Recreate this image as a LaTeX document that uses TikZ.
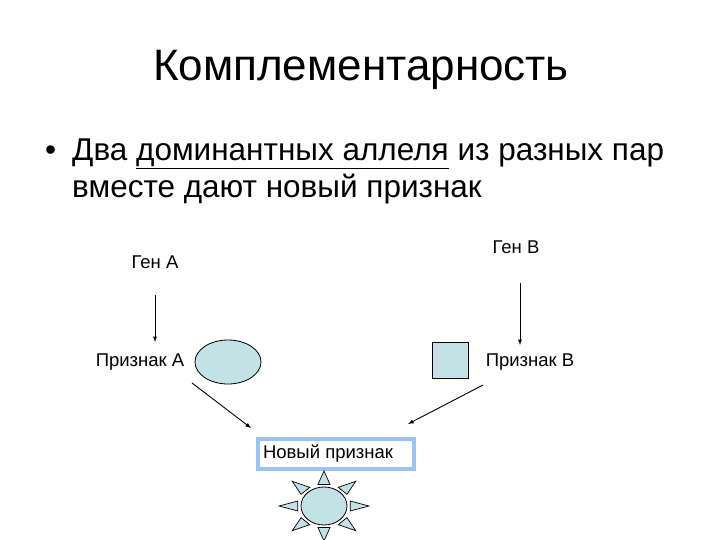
\documentclass[tikz,border=0pt]{standalone}
\usepackage{fontspec}
\setmainfont{Liberation Sans}
\usetikzlibrary{shapes.geometric}
\definecolor{shapefill}{HTML}{C4E2E6}
\definecolor{boxline}{HTML}{9CC4F2}
\begin{document}
\begin{tikzpicture}[x=1pt,y=-1pt,
  lbl/.style={font=\fontsize{18.5}{21}\selectfont,inner sep=0pt},
  arr/.style={-latex,line width=0.9pt},
  body/.style={font=\fontsize{31.5}{36}\selectfont,anchor=base west,inner sep=0pt}]
\useasboundingbox (0,0) rectangle (720,540);
\node[font=\fontsize{44}{50}\selectfont] (title) at (361,70) {Комплементарность};
\node[body] (bullet) at (45,161) {•};
\node[body] (l1) at (72,161) {Два \underline{доминантных аллеля} из разных пар};
\node[body] (l2) at (72,197) {вместе дают новый признак};
\node[lbl] (genA) at (155,262) {Ген А};
\node[lbl] (genB) at (516,247) {Ген В};
\coordinate (a1) at (155,295); \coordinate (a2) at (155,342);
\coordinate (b1) at (520,283); \coordinate (b2) at (520,345);
\draw[arr] (a1) -- (a2);
\draw[arr] (b1) -- (b2);
\node[lbl] (prA) at (140,362) {Признак А};
\node[lbl] (prB) at (530,362) {Признак В};
\node[ellipse,draw,line width=0.8pt,fill=shapefill,minimum width=66,minimum height=44,inner sep=0pt] (ell) at (228,362) {};
\node[rectangle,draw,line width=0.8pt,fill=shapefill,minimum width=36,minimum height=36,inner sep=0pt] (sq) at (450,360) {};
\node[draw=boxline,line width=4pt,fill=white,minimum width=156,minimum height=30,inner sep=0pt] (nov) at (336,454) {};
\node[lbl] (novt) at (328,454) {Новый признак};
\coordinate (c1) at (192,383); \coordinate (c2) at (251,428);
\coordinate (d1) at (483,385); \coordinate (d2) at (408,424);
\draw[arr] (c1) -- (c2);
\draw[arr] (d1) -- (d2);
\begin{scope}[shift={(324,506)}]
\foreach \a in {0,45,...,315}{
  \draw[fill=shapefill,line width=0.7pt] (\a:45 and 35) -- (\a-13:27 and 22) -- (\a+13:27 and 22) -- cycle;
}
\node[ellipse,draw,line width=0.8pt,fill=shapefill,minimum width=46,minimum height=38,inner sep=0pt] (sun) at (0,0) {};
\end{scope}
\end{tikzpicture}
\end{document}
